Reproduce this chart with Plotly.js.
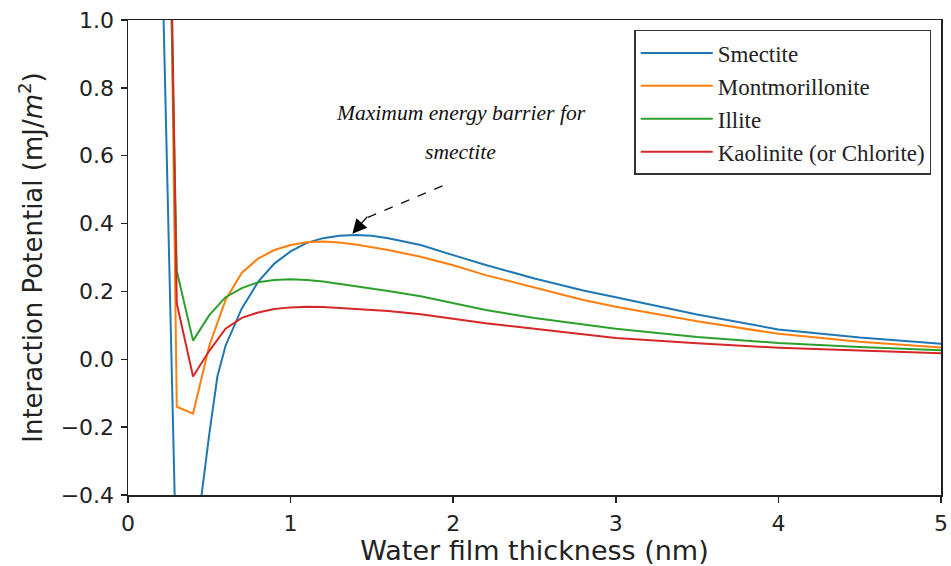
<!DOCTYPE html>
<html>
<head>
<meta charset="utf-8">
<script src="https://cdn.plot.ly/plotly-3.0.1.min.js"></script>
<style>html,body{margin:0;padding:0;background:#fff;}#chart{width:951px;height:566px;}</style>
</head>
<body>
<div id="chart"></div>
<script>
// Series names
const seriesNames = ["Smectite", "Montmorillonite", "Illite", "Kaolinite (or Chlorite)"];

// Smectite
const smectiteX = [0.2, 0.3, 0.4, 0.45, 0.5, 0.55, 0.6, 0.7, 0.8, 0.9, 1.0, 1.1, 1.2, 1.3, 1.4, 1.5, 1.6, 1.8, 2.0, 2.2, 2.5, 2.8, 3.0, 3.5, 4.0, 4.5, 5.0];
const smectiteY = [1.39, -0.67, -1.6, -0.41, -0.22, -0.05, 0.04, 0.15, 0.228, 0.282, 0.318, 0.343, 0.357, 0.364, 0.366, 0.364, 0.357, 0.337, 0.307, 0.278, 0.238, 0.203, 0.183, 0.132, 0.088, 0.064, 0.046];

// Montmorillonite
const montX = [0.2, 0.3, 0.4, 0.5, 0.6, 0.7, 0.8, 0.9, 1.0, 1.1, 1.2, 1.3, 1.4, 1.6, 1.8, 2.0, 2.2, 2.5, 2.8, 3.0, 3.5, 4.0, 4.5, 5.0];
const montY = [3.5, -0.14, -0.16, 0.04, 0.175, 0.255, 0.297, 0.322, 0.337, 0.345, 0.347, 0.344, 0.338, 0.322, 0.302, 0.277, 0.248, 0.212, 0.175, 0.155, 0.112, 0.075, 0.052, 0.035];

// Illite
const illiteX = [0.2, 0.3, 0.4, 0.5, 0.6, 0.7, 0.8, 0.9, 1.0, 1.1, 1.2, 1.4, 1.6, 1.8, 2.0, 2.2, 2.5, 2.8, 3.0, 3.5, 4.0, 4.5, 5.0];
const illiteY = [2.6, 0.26, 0.055, 0.13, 0.183, 0.21, 0.227, 0.234, 0.236, 0.234, 0.229, 0.216, 0.201, 0.186, 0.165, 0.145, 0.122, 0.102, 0.09, 0.066, 0.048, 0.036, 0.027];

// Kaolinite (or Chlorite)
const kaoX = [0.2, 0.3, 0.4, 0.5, 0.6, 0.7, 0.8, 0.9, 1.0, 1.1, 1.2, 1.4, 1.6, 1.8, 2.0, 2.2, 2.5, 2.8, 3.0, 3.5, 4.0, 4.5, 5.0];
const kaoY = [3.15, 0.165, -0.051, 0.025, 0.09, 0.122, 0.138, 0.148, 0.153, 0.155, 0.154, 0.149, 0.142, 0.133, 0.119, 0.106, 0.09, 0.073, 0.063, 0.047, 0.034, 0.026, 0.018];

const colors = ["#1f77b4", "#ff7f0e", "#2ca02c", "#d62728"];

// Tick labels
const xTicks = [0, 1, 2, 3, 4, 5];
const xTickText = ["0", "1", "2", "3", "4", "5"];
const yTicks = [-0.4, -0.2, 0.0, 0.2, 0.4, 0.6, 0.8, 1.0];
const yTickText = ["\u22120.4", "\u22120.2", "0.0", "0.2", "0.4", "0.6", "0.8", "1.0"];

const xs = [smectiteX, montX, illiteX, kaoX];
const ys = [smectiteY, montY, illiteY, kaoY];

const traces = seriesNames.map((n, i) => ({
  type: "scatter", mode: "lines", name: n,
  x: xs[i], y: ys[i],
  line: {color: colors[i], width: 2}
}));

// Peak of the smectite barrier (arrow target), searched beyond the primary minimum
let pk = -1;
smectiteY.forEach((v, i) => { if (smectiteX[i] > 0.6 && (pk < 0 || v > smectiteY[pk])) pk = i; });
const tipX = smectiteX[pk] - 0.02, tipY = smectiteY[pk] + 0.004;
const tailX = 1.934, tailY = 0.511;

const axisCommon = {
  showgrid: false, zeroline: false, showline: true, mirror: true,
  linecolor: "#222", linewidth: 1.5,
  ticks: "outside", ticklen: 6, tickwidth: 1.5, tickcolor: "#222",
  ticklabelstandoff: 2,
  tickfont: {family: "DejaVu Sans", size: 22, color: "#222"}
};

const layout = {
  width: 951, height: 566,
  margin: {l: 128, r: 10, t: 20, b: 71},
  paper_bgcolor: "#fff", plot_bgcolor: "#fff",
  showlegend: true,
  legend: {
    x: 0.988, xanchor: "right", y: 0.979, yanchor: "top",
    bgcolor: "#fff", bordercolor: "#333", borderwidth: 1.5,
    font: {family: "Liberation Serif", size: 23, color: "#222"},
    tracegroupgap: 0, itemwidth: 72
  },
  xaxis: Object.assign({}, axisCommon, {
    range: [0, 5], tickvals: xTicks, ticktext: xTickText,
    title: {text: "Water film thickness (nm)", font: {family: "DejaVu Sans", size: 27, color: "#222"}, standoff: 5}
  }),
  yaxis: Object.assign({}, axisCommon, {
    range: [-0.4, 1.0], tickvals: yTicks, ticktext: yTickText,
    title: {text: "Interaction Potential (mJ/<i>m</i><sup>2</sup>)", font: {family: "DejaVu Sans", size: 26, color: "#222"}, standoff: 10}
  }),
  shapes: [{
    type: "line", xref: "x", yref: "y",
    x0: tailX, y0: tailY, x1: tipX + 0.08, y1: tipY + 0.045,
    line: {color: "#111", width: 1.3, dash: "dash"}
  }],
  annotations: [
    {xref: "x", yref: "y", x: 2.045, y: 0.726, showarrow: false,
     text: "<i>Maximum energy barrier for</i>",
     font: {family: "Liberation Serif", size: 21.6, color: "#111"}},
    {xref: "x", yref: "y", x: 2.045, y: 0.611, showarrow: false,
     text: "<i>smectite</i>",
     font: {family: "Liberation Serif", size: 21.6, color: "#111"}},
    {xref: "x", yref: "y", axref: "x", ayref: "y",
     x: tipX, y: tipY, ax: tipX + 0.1, ay: tipY + 0.055,
     text: "", showarrow: true, arrowhead: 2, arrowsize: 2.2, arrowwidth: 1.3, arrowcolor: "#000", standoff: 0}
  ]
};

Plotly.newPlot("chart", traces, layout, {displayModeBar: false, staticPlot: true});
</script>
</body>
</html>
